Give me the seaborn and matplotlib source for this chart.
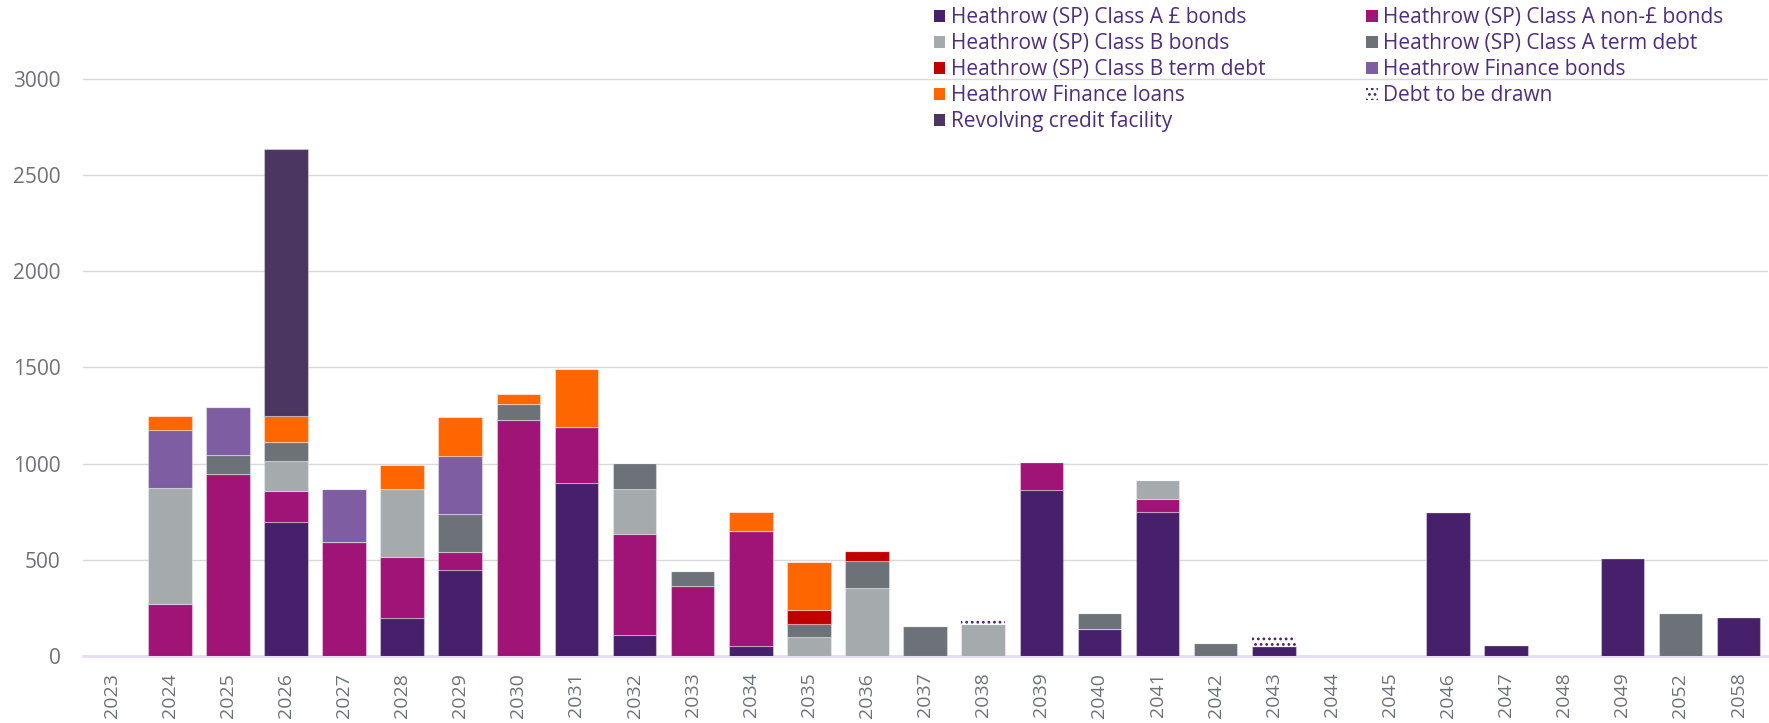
import matplotlib
matplotlib.use("Agg")
import matplotlib.pyplot as plt
from matplotlib.patches import Patch
import numpy as np
import seaborn as sns

# Debt maturity profile (GBP m)
years = [str(y) for y in range(2023, 2050)] + ["2052", "2058"]

class_a_gbp_bonds = [0, 0, 0, 694, 0, 195, 445, 0, 899, 108, 0, 50, 0, 0, 0, 0,
                     862, 138, 750, 0, 51, 0, 0, 750, 56, 0, 507, 0, 202]
class_a_non_gbp_bonds = [0, 272, 946, 164, 590, 321, 93, 1229, 290, 526, 363, 599, 0, 0, 0, 0,
                         147, 0, 65, 0, 0, 0, 0, 0, 0, 0, 0, 0, 0]
class_b_bonds = [0, 603, 0, 158, 0, 353, 0, 0, 0, 232, 0, 0, 97, 351, 0, 168,
                 0, 0, 99, 0, 0, 0, 0, 0, 0, 0, 0, 0, 0]
class_a_term_debt = [0, 0, 100, 95, 0, 0, 201, 81, 0, 139, 80, 0, 68, 145, 158, 0,
                     0, 83, 0, 70, 0, 0, 0, 0, 0, 0, 0, 221, 0]
class_b_term_debt = [0, 0, 0, 0, 0, 0, 0, 0, 0, 0, 0, 0, 75, 51, 0, 0,
                     0, 0, 0, 0, 0, 0, 0, 0, 0, 0, 0, 0, 0]
finance_bonds = [0, 300, 250, 0, 279, 0, 300, 0, 0, 0, 0, 0, 0, 0, 0, 0,
                 0, 0, 0, 0, 0, 0, 0, 0, 0, 0, 0, 0, 0]
finance_loans = [0, 74, 0, 134, 0, 125, 201, 54, 302, 0, 0, 101, 250, 0, 0, 0,
                 0, 0, 0, 0, 0, 0, 0, 0, 0, 0, 0, 0, 0]
revolving_credit = [0, 0, 0, 1393, 0, 0, 0, 0, 0, 0, 0, 0, 0, 0, 0, 0,
                    0, 0, 0, 0, 0, 0, 0, 0, 0, 0, 0, 0, 0]
debt_to_be_drawn = [0, 0, 0, 0, 0, 0, 0, 0, 0, 0, 0, 0, 0, 0, 0, 27,
                    0, 0, 0, 0, 50, 0, 0, 0, 0, 0, 0, 0, 0]

series_names = ["Heathrow (SP) Class A £ bonds", "Heathrow (SP) Class A non-£ bonds",
                "Heathrow (SP) Class B bonds", "Heathrow (SP) Class A term debt",
                "Heathrow (SP) Class B term debt", "Heathrow Finance bonds",
                "Heathrow Finance loans", "Revolving credit facility", "Debt to be drawn"]

# Colours
PURPLE_DARK = "#47206B"
colors = [PURPLE_DARK, "#A01478", "#A5AAAD", "#6D7278", "#C00000",
          "#7F5DA3", "#FF6600", "#4A3660", "white"]
TEXT_PURPLE = "#4F2D7F"
TICK_GREY = "#6D7278"

sns.set_style("white")
plt.rcParams["font.family"] = ["Open Sans", "DejaVu Sans"]
plt.rcParams["hatch.color"] = PURPLE_DARK
plt.rcParams["hatch.linewidth"] = 1.2

fig = plt.figure(figsize=(17.69, 7.23), dpi=100)
ax = fig.add_axes([0.0467, 0.0927, 0.9525, 0.878])

layers = [class_a_gbp_bonds, class_a_non_gbp_bonds, class_b_bonds, class_a_term_debt,
          class_b_term_debt, finance_bonds, finance_loans, revolving_credit, debt_to_be_drawn]

bottom = np.zeros(len(years))
for vals, col, name in zip(layers, colors, series_names):
    vals = np.array(vals, dtype=float)
    if name == "Debt to be drawn":
        sns.barplot(x=years, y=vals, order=years, color="white", saturation=1,
                    width=0.75, bottom=bottom, edgecolor=PURPLE_DARK,
                    linewidth=0, hatch="...", ax=ax, zorder=3)
    else:
        sns.barplot(x=years, y=vals, order=years, color=col, saturation=1,
                    width=0.75, bottom=bottom, edgecolor=(1, 1, 1, 0.35),
                    linewidth=0.8, ax=ax, zorder=3)
    bottom = bottom + vals

# Axes styling
ax.set_xlim(-0.5, len(years) - 0.5)
ax.set_ylim(0, 3300)
ax.set_yticks(range(0, 3001, 500))
ax.set_xlabel("")
ax.set_ylabel("")
ax.grid(axis="y", color="#D9D9D9", linewidth=1, zorder=0)
ax.set_axisbelow(True)
for side in ["top", "right", "left"]:
    ax.spines[side].set_visible(False)
ax.spines["bottom"].set_color("#E8DCF2")
ax.spines["bottom"].set_linewidth(2)
ax.tick_params(axis="y", length=0, pad=16, labelsize=15, labelcolor=TICK_GREY)
ax.tick_params(axis="x", length=0, pad=12, labelsize=14, labelcolor=TICK_GREY,
               labelrotation=90)

# Legend, filled row-wise like the original (matplotlib fills column-wise)
handles = []
for col, name in zip(colors, series_names):
    if name == "Debt to be drawn":
        handles.append(Patch(facecolor="white", edgecolor=PURPLE_DARK, linewidth=0,
                             hatch="...", label=name))
    else:
        handles.append(Patch(facecolor=col, edgecolor="none", label=name))
order = [0, 2, 4, 6, 7, 1, 3, 5, 8]
leg = fig.legend([handles[i] for i in order], [series_names[i] for i in order],
                 loc="upper left", bbox_to_anchor=(934 / 1769, 0.99), ncol=2,
                 frameon=False, fontsize=15, handlelength=0.55, handleheight=0.55,
                 handletextpad=0.25, labelspacing=0.24, columnspacing=4.85,
                 borderpad=0, borderaxespad=0)
for t in leg.get_texts():
    t.set_color(TEXT_PURPLE)

fig.savefig("out.png", dpi=100)
